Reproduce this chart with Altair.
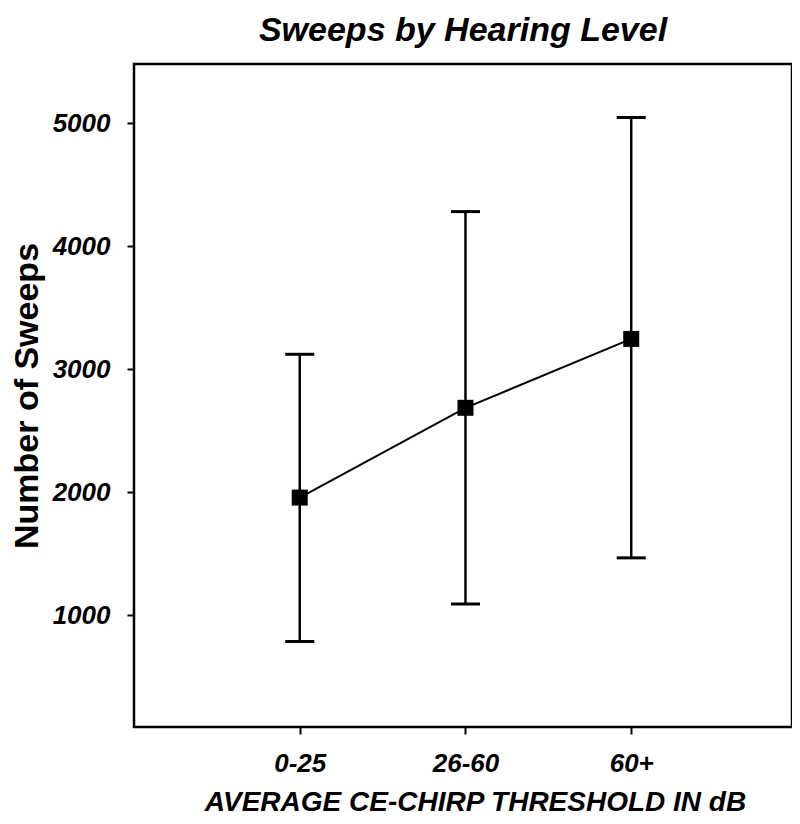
import altair as alt
import pandas as pd

categories = ["0-25", "26-60", "60+"]
positions = [1, 2, 3]
means = [1955, 2685, 3245]
upper = [3120, 4280, 5045]
lower = [785, 1090, 1465]
y_ticks = [1000, 2000, 3000, 4000, 5000]

df = pd.DataFrame({"cat": categories, "pos": positions, "mean": means,
                   "upper": upper, "lower": lower})

FONT = "Liberation Sans"

x = alt.X("pos:Q", scale=alt.Scale(domain=[0, 3.97], nice=False, zero=False),
          axis=alt.Axis(values=positions,
                        labelExpr="datum.value == 1 ? '0-25' : datum.value == 2 ? '26-60' : '60+'",
                        title="AVERAGE CE-CHIRP THRESHOLD IN dB",
                        grid=False, domain=False, tickSize=7, tickWidth=2, tickColor="black",
                        labelFont=FONT, labelFontSize=26, labelFontWeight="bold",
                        labelFontStyle="italic", labelColor="black", labelPadding=16,
                        titleFont=FONT, titleFontSize=28, titleFontWeight="bold",
                        titleFontStyle="italic", titleColor="black", titlePadding=12,
                        titleX=341, titleAlign="center"))
y_axis = alt.Axis(values=y_ticks, format="d", title="Number of Sweeps",
                  grid=False, domain=False, tickSize=7, tickWidth=2, tickColor="black",
                  labelFont=FONT, labelFontSize=26, labelFontWeight="bold",
                  labelFontStyle="italic", labelColor="black", labelPadding=17,
                  titleFont=FONT, titleFontSize=34, titleFontWeight="bold",
                  titleColor="black", titlePadding=8)
yscale = alt.Scale(domain=[90, 5480], nice=False, zero=False)

base = alt.Chart(df)

bars = base.mark_rule(color="black", strokeWidth=2.5).encode(
    x=x, y=alt.Y("lower:Q", scale=yscale, axis=y_axis), y2="upper:Q")
cap_top = base.mark_tick(color="black", thickness=3, size=29, orient="horizontal", opacity=1).encode(
    x="pos:Q", y=alt.Y("upper:Q", scale=yscale))
cap_bot = base.mark_tick(color="black", thickness=3, size=29, orient="horizontal", opacity=1).encode(
    x="pos:Q", y=alt.Y("lower:Q", scale=yscale))
line = base.mark_line(color="black", strokeWidth=2).encode(
    x="pos:Q", y=alt.Y("mean:Q", scale=yscale))
pts = base.mark_point(shape="square", filled=True, color="black", size=256, opacity=1).encode(
    x="pos:Q", y=alt.Y("mean:Q", scale=yscale))

chart = alt.layer(bars, cap_top, cap_bot, line, pts).properties(
    width=658, height=663,
    background="white",
    title=alt.TitleParams("Sweeps by Hearing Level", font=FONT, fontSize=34,
                          fontWeight="bold", fontStyle="italic", color="black",
                          anchor="middle", offset=16),
    padding={"left": 126, "top": 56, "right": 0, "bottom": 89},
    autosize=alt.AutoSizeParams(type="none"),
).configure_view(stroke="black", strokeWidth=2.5)

chart.save("out.html", embed_options={"renderer": "svg", "actions": False})
